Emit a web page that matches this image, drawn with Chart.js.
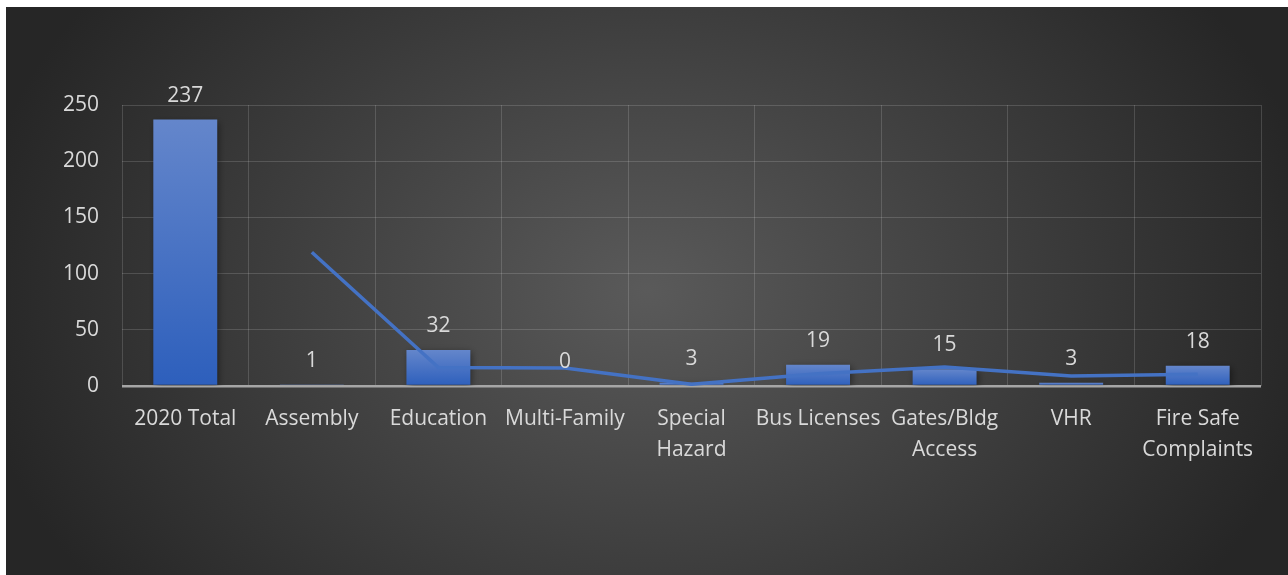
<!DOCTYPE html>
<html>
<head>
<meta charset="utf-8">
<script src="https://cdn.jsdelivr.net/npm/chart.js@4.4.1/dist/chart.umd.min.js"></script>
<style>
  html, body { margin: 0; padding: 0; background: #ffffff; width: 1288px; height: 575px; overflow: hidden; }
  #wrap { position: absolute; left: 6px; top: 7px; width: 1282px; height: 568px; background: #262626; }
</style>
</head>
<body>
<div id="wrap"><canvas id="c"></canvas></div>
<script>
const categories = [
  "2020 Total", "Assembly", "Education", "Multi-Family",
  ["Special", "Hazard"], "Bus Licenses", ["Gates/Bldg", "Access"], "VHR",
  ["Fire Safe", "Complaints"]
];
const counts = [237, 1, 32, 0, 3, 19, 15, 3, 18];
const trendValues = [null, 119, 16.5, 16, 1.5, 11, 17, 9, 10.5];
const yTickValues = [0, 50, 100, 150, 200, 250];

const FONT = "'Open Sans', 'DejaVu Sans', sans-serif";
const TEXT = "#d9d9d9";

const bgPlugin = {
  id: "bg",
  beforeDraw(chart) {
    const { ctx, width, height } = chart;
    ctx.save();
    const cx = width * 0.5, cy = height * 0.5;
    ctx.translate(cx, cy);
    ctx.scale(1, 0.75);
    const g = ctx.createRadialGradient(0, 0, 0, 0, 0, width * 0.53);
    g.addColorStop(0, "#5a5a5a");
    g.addColorStop(1, "#262626");
    ctx.fillStyle = g;
    ctx.fillRect(-cx - 2, -cy / 0.75 - 2, width + 4, height / 0.75 + 4);
    ctx.restore();
  }
};

const shadowPlugin = {
  id: "barShadow",
  beforeDatasetDraw(chart, args) {
    if (chart.data.datasets[args.index].type === "bar") {
      const ctx = chart.ctx;
      ctx.save();
      ctx.shadowColor = "rgba(0,0,0,0.45)";
      ctx.shadowBlur = 7;
      ctx.shadowOffsetX = 2;
      ctx.shadowOffsetY = 2;
    }
  },
  afterDatasetDraw(chart, args) {
    if (chart.data.datasets[args.index].type === "bar") {
      chart.ctx.restore();
    }
  }
};

const labelPlugin = {
  id: "valueLabels",
  afterDatasetsDraw(chart) {
    const idx = chart.data.datasets.findIndex(d => d.type === "bar");
    const meta = chart.getDatasetMeta(idx);
    const ctx = chart.ctx;
    ctx.save();
    ctx.font = "21px " + FONT;
    ctx.fillStyle = TEXT;
    ctx.textAlign = "center";
    ctx.textBaseline = "middle";
    meta.data.forEach((el, i) => {
      ctx.fillText(String(counts[i]), el.x, el.y - 24);
    });
    ctx.restore();
  }
};

function barGradient(context) {
  const chart = context.chart;
  const ys = chart.scales.y;
  if (!ys || context.raw === undefined) return "#4472C4";
  const top = ys.getPixelForValue(context.raw);
  const base = ys.getPixelForValue(0);
  if (!isFinite(top) || !isFinite(base) || base - top < 1) return "#5b80cc";
  const g = chart.ctx.createLinearGradient(0, top, 0, base);
  g.addColorStop(0, "#6486cb");
  g.addColorStop(1, "#2d5fbc");
  return g;
}

new Chart(document.getElementById("c"), {
  data: {
    labels: categories,
    datasets: [
      {
        type: "line",
        label: "2 per. Mov. Avg.",
        data: trendValues,
        borderColor: "#4472C4",
        borderWidth: 3.5,
        pointRadius: 0,
        tension: 0,
        fill: false,
        order: 0
      },
      {
        type: "bar",
        label: "Count",
        data: counts,
        backgroundColor: barGradient,
        borderWidth: 0,
        categoryPercentage: 1.0,
        barPercentage: 0.505,
        order: 1
      }
    ]
  },
  options: {
    responsive: true,
    maintainAspectRatio: false,
    animation: false,
    layout: { padding: { top: 98, right: 27, left: 0, bottom: 0 } },
    plugins: {
      legend: { display: false },
      tooltip: { enabled: false }
    },
    scales: {
      x: {
        offset: true,
        border: { display: false },
        grid: {
          offset: true,
          drawTicks: false,
          color: "rgba(255,255,255,0.15)",
          lineWidth: 1
        },
        ticks: {
          color: TEXT,
          font: { family: FONT, size: 21, lineHeight: 1.48 },
          padding: 17,
          maxRotation: 0,
          autoSkip: false
        },
        afterFit(scale) { scale.height = 189; }
      },
      y: {
        min: 0,
        max: 250,
        border: { display: false },
        grid: {
          drawTicks: false,
          color: (c) => (c.tick && c.tick.value === 0 ? "#a6a6a6" : "rgba(255,255,255,0.15)"),
          lineWidth: (c) => (c.tick && c.tick.value === 0 ? 2.5 : 1)
        },
        afterBuildTicks(scale) {
          scale.ticks = yTickValues.map(v => ({ value: v }));
        },
        ticks: {
          color: TEXT,
          font: { family: FONT, size: 21 },
          padding: 23
        },
        afterFit(scale) { scale.width = 116; }
      }
    }
  },
  plugins: [bgPlugin, shadowPlugin, labelPlugin]
});
</script>
</body>
</html>
